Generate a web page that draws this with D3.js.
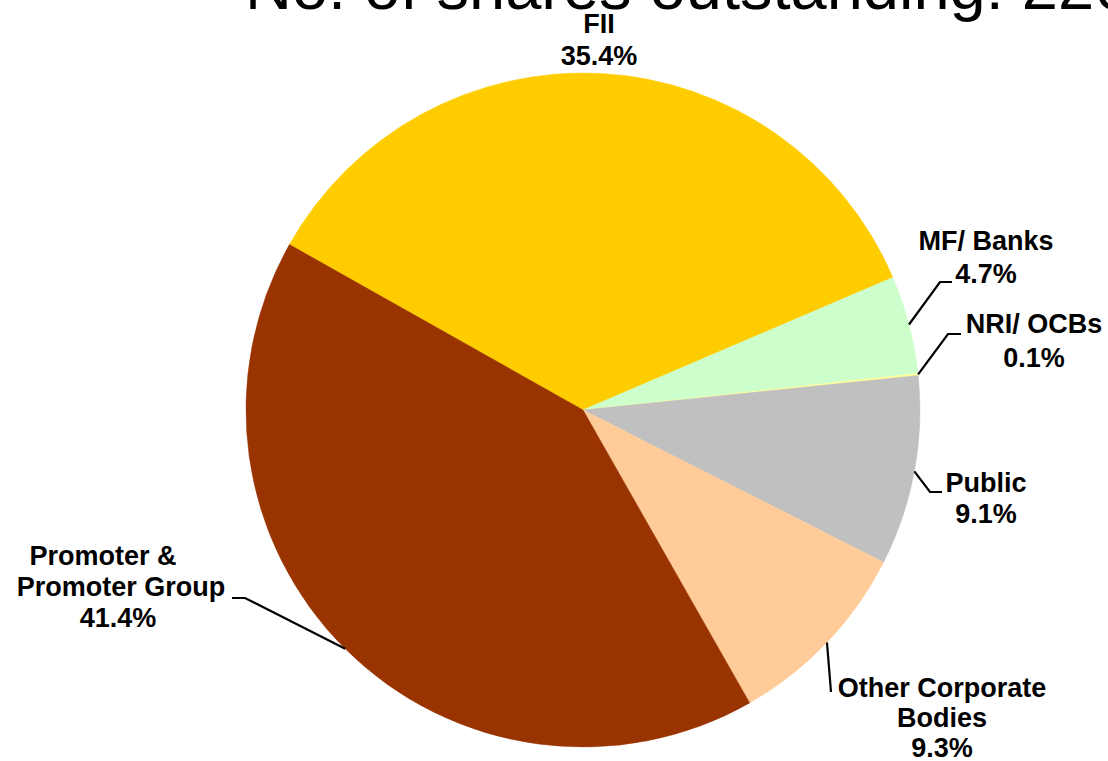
<!DOCTYPE html>
<html>
<head>
<meta charset="utf-8">
<script src="https://cdn.jsdelivr.net/npm/d3@7"></script>
<style>
  html, body { margin: 0; padding: 0; background: #ffffff; }
  svg { display: block; }
</style>
</head>
<body>
<svg id="chart" width="1108" height="761"></svg>
<script>
// ---- data ----
const categories = ["FII", "MF/ Banks", "NRI/ OCBs", "Public", "Other Corporate Bodies", "Promoter & Promoter Group"];
const values = [35.4, 4.7, 0.1, 9.1, 9.3, 41.4];
const labelLines = [["FII", "35.4%"], ["MF/ Banks", "4.7%"], ["NRI/ OCBs", "0.1%"], ["Public", "9.1%"], ["Other Corporate", "Bodies", "9.3%"], ["Promoter &", "Promoter Group", "41.4%"]];
const colors = ["#FFCC00", "#CCFFCC", "#FFFF99", "#C0C0C0", "#FFCC99", "#993300"];
const titleText = "No. of shares outstanding: 226";

// ---- layout ----
const W = 1108, H = 761;
const cx = 583, cy = 410, R = 337;
const startDeg = -60.6;
// label layout: x centre, first baseline, line gap, optional leader bend point & end
const labelLayout = [
  { x: 599, y: 33, gap: 32, leader: null },
  { x: 986, y: 250, gap: 33, leader: [[940, 282], [952, 282]] },
  { x: 1034, y: 333, gap: 34, leader: [[948, 334], [961, 334]] },
  { x: 986, y: 492, gap: 31, leader: [[930, 492], [942, 492]] },
  { x: 942, y: 697, gap: 30, leader: [[831, 692]] },
  { x: 121, y: 565, gap: 31, leader: [[245, 598], [232, 598]], dx: [-18, 0, -3] }
];

const svg = d3.select("#chart");
svg.append("rect").attr("width", W).attr("height", H).attr("fill", "#ffffff");

// title (cropped at top in the reference)
svg.append("text")
  .attr("x", 245).attr("y", 9)
  .attr("font-family", "'Liberation Sans', Arial, sans-serif")
  .attr("font-size", 65)
  .attr("fill", "#000")
  .text(titleText);

const data = categories.map((c, i) => ({ cat: c, value: values[i], color: colors[i], lines: labelLines[i], lay: labelLayout[i] }));

const pie = d3.pie().sort(null).value(d => d.value)
  .startAngle(startDeg * Math.PI / 180)
  .endAngle((startDeg + 360) * Math.PI / 180);
const arcs = pie(data);
const arc = d3.arc().innerRadius(0).outerRadius(R);

const g = svg.append("g").attr("transform", `translate(${cx},${cy})`);
g.selectAll("path.slice").data(arcs).enter().append("path")
  .attr("class", "slice")
  .attr("d", arc)
  .attr("fill", d => d.data.color)
  .attr("stroke", d => d.data.color)
  .attr("stroke-width", 0.5);

// leader lines
const lineGen = d3.line();
arcs.forEach(a => {
  const lay = a.data.lay;
  if (!lay.leader) return;
  const mid = (a.startAngle + a.endAngle) / 2;
  const p0 = [cx + R * Math.sin(mid), cy - R * Math.cos(mid)];
  svg.append("path")
    .attr("d", lineGen([p0, ...lay.leader]))
    .attr("fill", "none")
    .attr("stroke", "#000")
    .attr("stroke-width", 2.2);
});

// labels
arcs.forEach(a => {
  const lay = a.data.lay;
  const t = svg.append("text")
    .attr("font-family", "'Liberation Sans', Arial, sans-serif")
    .attr("font-weight", "bold")
    .attr("font-size", 27)
    .attr("fill", "#000")
    .attr("text-anchor", "middle");
  a.data.lines.forEach((ln, i) => {
    t.append("tspan")
      .attr("x", lay.x + (lay.dx ? lay.dx[i] : 0))
      .attr("y", lay.y + i * lay.gap)
      .text(ln);
  });
});
</script>
</body>
</html>
